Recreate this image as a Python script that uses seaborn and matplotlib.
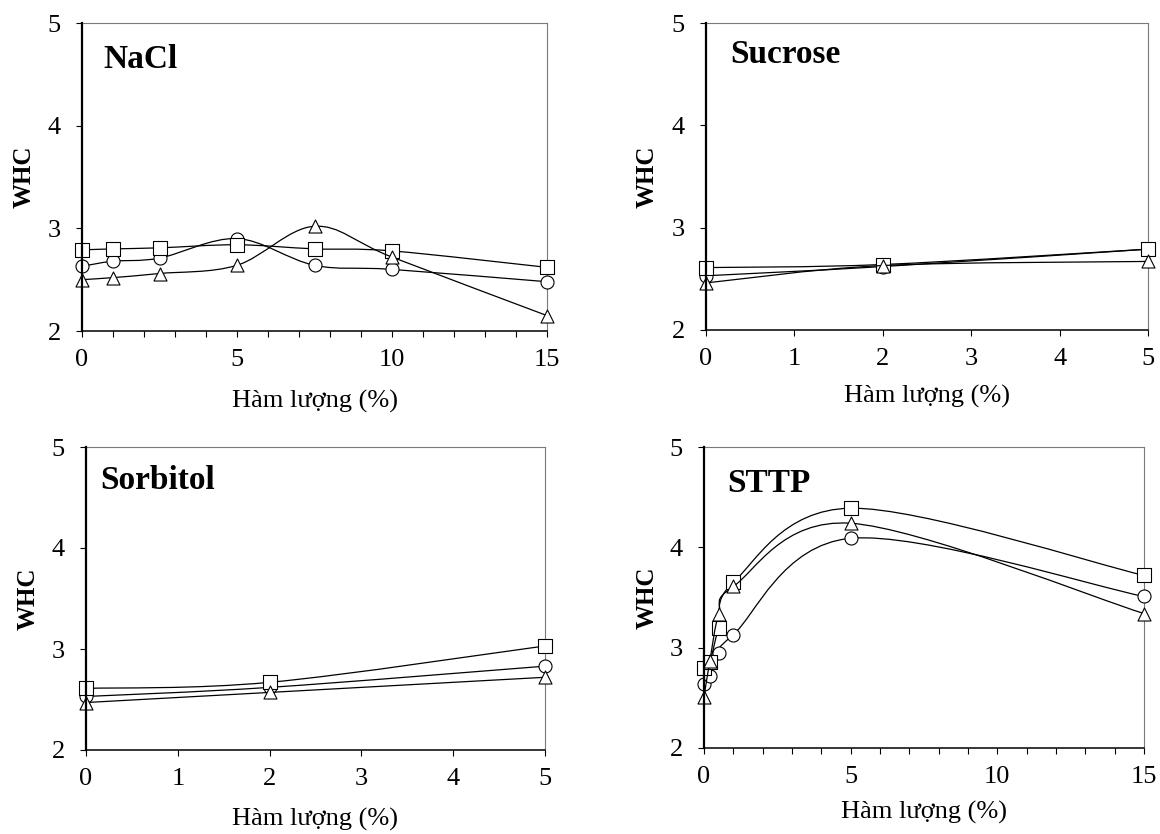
import numpy as np
import pandas as pd
import matplotlib
matplotlib.use("Agg")
import matplotlib.pyplot as plt
from matplotlib.path import Path
from matplotlib.patches import PathPatch
from matplotlib.ticker import MultipleLocator, FixedLocator
import seaborn as sns

# ---------------- data ----------------
nacl_x = [0, 1, 2.5, 5, 7.5, 10, 15]
nacl_circle = [2.63, 2.68, 2.71, 2.90, 2.64, 2.60, 2.48]
nacl_square = [2.79, 2.80, 2.81, 2.84, 2.80, 2.78, 2.62]
nacl_triangle = [2.50, 2.52, 2.56, 2.64, 3.02, 2.72, 2.15]

sucrose_x = [0, 2, 5]
sucrose_circle = [2.53, 2.62, 2.79]
sucrose_square = [2.61, 2.64, 2.79]
sucrose_triangle = [2.46, 2.63, 2.67]

sorbitol_x = [0, 2, 5]
sorbitol_circle = [2.53, 2.62, 2.83]
sorbitol_square = [2.61, 2.67, 3.03]
sorbitol_triangle = [2.47, 2.57, 2.72]

sttp_x = [0, 0.2, 0.5, 1, 5, 15]
sttp_circle = [2.64, 2.72, 2.95, 3.13, 4.09, 3.51]
sttp_square = [2.80, 2.86, 3.20, 3.65, 4.39, 3.72]
sttp_triangle = [2.51, 2.87, 3.34, 3.61, 4.24, 3.34]

panel_titles = ["NaCl", "Sucrose", "Sorbitol", "STTP"]
x_label = "Hàm lượng (%)"
y_label = "WHC"
y_ticks = [2, 3, 4, 5]

# ---------------- style ----------------
sns.set_theme(style="ticks")
plt.rcParams["font.family"] = ["Liberation Serif", "DejaVu Serif"]
plt.rcParams["text.color"] = "black"
plt.rcParams["axes.labelcolor"] = "black"
plt.rcParams["xtick.color"] = "black"
plt.rcParams["ytick.color"] = "black"
plt.rcParams["xtick.labelcolor"] = "black"
plt.rcParams["ytick.labelcolor"] = "black"

W, H = 1160, 834
fig = plt.figure(figsize=(W / 100, H / 100), dpi=100)
fig.patch.set_facecolor("white")


def add_ax(l, r, t, b):
    return fig.add_axes([l / W, 1 - b / H, (r - l) / W, (b - t) / H])


def smooth_path(x, y):
    P = np.column_stack([x, y]).astype(float)
    n = len(P)
    verts = [P[0]]
    codes = [Path.MOVETO]
    for i in range(n - 1):
        p0 = P[i - 1] if i > 0 else P[i]
        p1 = P[i]
        p2 = P[i + 1]
        p3 = P[i + 2] if i + 2 < n else P[i + 1]
        c1 = p1 + (p2 - p0) / 6.0
        c2 = p2 - (p3 - p1) / 6.0
        verts += [c1, c2, p2]
        codes += [Path.CURVE4] * 3
    return Path(verts, codes)


panels = [
    dict(box=(82, 547, 23, 331), x=nacl_x, c=nacl_circle, s=nacl_square, t=nacl_triangle,
         xmax=15, major=5, minor=1, title=(0.045, 0.853), ylab=-0.125, xlab=-0.230),
    dict(box=(706, 1148, 23, 330), x=sucrose_x, c=sucrose_circle, s=sucrose_square, t=sucrose_triangle,
         xmax=5, major=1, minor=None, title=(0.055, 0.869), ylab=-0.134, xlab=-0.215),
    dict(box=(86, 545, 447, 750), x=sorbitol_x, c=sorbitol_circle, s=sorbitol_square, t=sorbitol_triangle,
         xmax=5, major=1, minor=None, title=(0.030, 0.862), ylab=-0.126, xlab=-0.228),
    dict(box=(704, 1144, 447, 748), x=sttp_x, c=sttp_circle, s=sttp_square, t=sttp_triangle,
         xmax=15, major=5, minor=1, title=(0.052, 0.850), ylab=-0.130, xlab=-0.213),
]

marker_map = {"circle": "o", "square": "s", "triangle": "^"}

for p, title in zip(panels, panel_titles):
    ax = add_ax(*p["box"])
    ax.set_facecolor("white")
    series = [("circle", p["c"]), ("square", p["s"]), ("triangle", p["t"])]
    z = 3
    for name, vals in series:
        patch = PathPatch(smooth_path(p["x"], vals), facecolor="none", edgecolor="black",
                          lw=0.9, zorder=z, clip_on=False)
        ax.add_patch(patch)
        df = pd.DataFrame({"x": p["x"], "y": vals, "series": name})
        sns.scatterplot(data=df, x="x", y="y", marker=marker_map[name], s=88,
                        color="white", edgecolor="black", linewidth=0.8,
                        ax=ax, zorder=z + 1, clip_on=False, legend=False)
        z += 2

    ax.set_xlim(0, p["xmax"])
    ax.set_ylim(2, 5)
    ax.xaxis.set_major_locator(MultipleLocator(p["major"]))
    if p["minor"]:
        ax.xaxis.set_minor_locator(MultipleLocator(p["minor"]))
    ax.yaxis.set_major_locator(FixedLocator(y_ticks))

    ax.tick_params(axis="x", which="both", direction="out", length=4.3, width=0.8,
                   color="black", labelcolor="black", labelsize=19, pad=8.5)
    ax.tick_params(axis="y", which="both", direction="out", length=4.3, width=0.8,
                   color="black", labelcolor="black", labelsize=19, pad=11)
    ax.tick_params(axis="y", which="minor", length=0)

    ax.spines["left"].set_linewidth(1.6)
    ax.spines["left"].set_color("black")
    ax.spines["bottom"].set_linewidth(1.1)
    ax.spines["bottom"].set_color("black")
    for s in ("top", "right"):
        ax.spines[s].set_linewidth(0.8)
        ax.spines[s].set_color("#7a7a7a")
    ax.spines["left"].set_zorder(10)
    ax.spines["bottom"].set_zorder(10)

    ax.set_xlabel(x_label, fontsize=19, va="center", color="black")
    ax.xaxis.set_label_coords(0.5, p["xlab"])
    ax.set_ylabel(y_label, fontsize=18, fontweight="bold", va="center", color="black")
    ax.yaxis.set_label_coords(p["ylab"], 0.5)

    ax.text(p["title"][0], p["title"][1], title, transform=ax.transAxes, ha="left",
            va="baseline", fontsize=24, fontweight="bold", color="black")

fig.savefig("out.png", dpi=100, facecolor="white")
